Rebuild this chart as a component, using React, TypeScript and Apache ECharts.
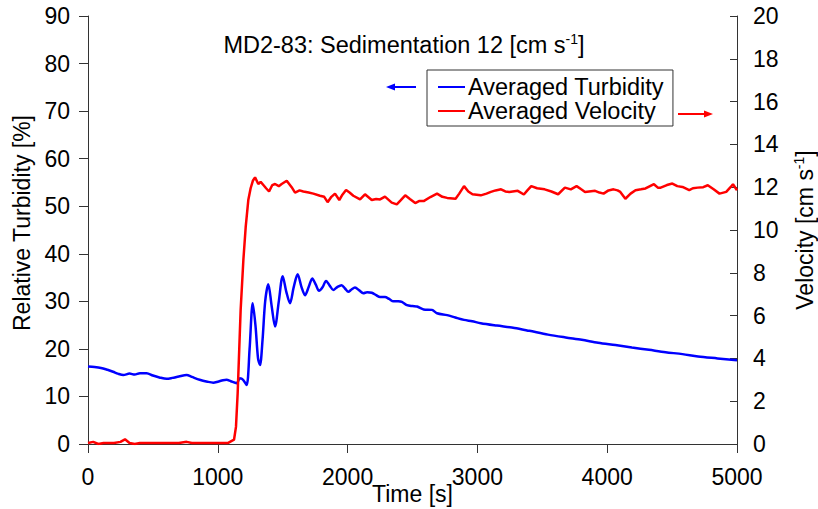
import React, { useEffect, useRef } from "react";
import * as echarts from "echarts";

const turbTime = [0,50,100,150,193,230,272,320,360,400,452,500,550,606,650,700,760,800,860,920,965,1000,1040,1068,1100,1145,1170,1195,1222,1245,1269,1290,1310,1325,1345,1365,1389,1415,1441,1470,1500,1528,1556,1585,1615,1645,1672,1700,1728,1755,1780,1808,1834,1862,1890,1920,1954,1980,2006,2030,2057,2090,2121,2150,2186,2220,2250,2288,2320,2353,2390,2418,2457,2500,2535,2586,2650,2689,2767,2830,2897,2960,3026,3150,3286,3400,3544,3680,3804,3930,4063,4190,4322,4450,4580,4700,4850,5000];
const turbValue = [16.3,16.2,16.0,15.6,15.2,14.8,14.5,14.8,14.6,14.9,14.9,14.4,14.0,13.7,13.9,14.2,14.5,14.1,13.5,13.1,12.9,13.1,13.4,13.5,13.2,12.8,13.8,13.5,12.4,20,29.6,25,18,16.6,22,30,33.6,29,24.7,30,35.3,32,29.6,33,35.7,33,31.3,33,34.8,33.5,32.2,33,34.3,33.3,32.4,33,33.4,32.7,32.0,32.5,32.9,32.3,31.7,31.9,31.8,31.3,30.9,30.9,30.5,30.0,30.0,29.9,29.2,29.0,28.9,28.3,28.2,27.5,27.1,26.6,26.1,25.8,25.4,24.9,24.4,23.8,23.0,22.4,21.9,21.3,20.8,20.3,19.8,19.3,18.9,18.4,18.0,17.6];

const velTime = [0,40,80,120,200,250,285,320,360,400,500,600,700,760,800,900,1000,1080,1125,1140,1153,1165,1176,1197,1215,1235,1253,1270,1287,1312,1330,1351,1372,1395,1420,1441,1470,1492,1531,1569,1595,1630,1659,1700,1736,1787,1820,1846,1875,1903,1936,1960,1988,2015,2044,2096,2134,2186,2220,2250,2288,2340,2379,2410,2444,2480,2521,2550,2586,2638,2689,2730,2767,2832,2860,2897,2930,2962,3026,3070,3104,3140,3182,3215,3246,3311,3358,3385,3415,3460,3518,3570,3622,3674,3720,3764,3800,3829,3907,3940,3972,4010,4049,4080,4101,4140,4180,4218,4260,4295,4330,4360,4390,4412,4460,4502,4540,4580,4632,4660,4697,4740,4775,4820,4865,4917,4950,4969,5000];
const velValue = [0.05,0.1,0.0,0.05,0.05,0.1,0.22,0.05,0.0,0.05,0.05,0.05,0.05,0.1,0.05,0.05,0.05,0.05,0.2,0.8,2.37,4.4,6.26,8.6,10.15,11.4,11.95,12.3,12.46,12.15,12.25,12.1,11.95,11.8,12.1,12.15,12.05,12.15,12.3,12.0,11.75,11.85,11.8,11.75,11.7,11.6,11.55,11.3,11.55,11.7,11.4,11.65,11.87,11.75,11.6,11.43,11.67,11.4,11.45,11.43,11.56,11.28,11.2,11.4,11.62,11.45,11.26,11.35,11.35,11.54,11.7,11.55,11.5,11.46,11.7,12.05,11.8,11.67,11.62,11.7,11.78,11.85,11.9,11.8,11.78,11.83,11.66,11.85,12.05,11.95,11.9,11.8,11.67,11.98,11.9,12.05,11.9,11.78,11.83,11.75,11.7,11.85,11.9,11.85,11.78,11.46,11.7,11.86,11.9,11.94,12.05,12.14,11.98,11.98,12.1,12.17,12.05,12.01,11.86,11.95,11.98,12.0,12.09,11.9,11.7,11.78,12.0,12.14,11.86];

const seriesNames = ["Averaged Turbidity", "Averaged Velocity"];
const titleText = "MD2-83: Sedimentation 12 [cm s";
const FONT = "Liberation Sans";

export default function App() {
  const ref = useRef<HTMLDivElement>(null);
  useEffect(() => {
    if (!ref.current) return;
    const chart = echarts.init(ref.current, undefined, { renderer: "svg" });
    const axisCol = "#333";
    const lbl = { color: "#000", fontFamily: FONT, fontSize: 23 };
    const plain = (v: number) => String(v);
    chart.setOption({
      animation: false,
      backgroundColor: "#fff",
      textStyle: { fontFamily: FONT },
      title: {
        text: "{a|" + titleText + "}{b|-1}{a|]}",
        left: 399,
        textAlign: "center",
        top: 27,
        textStyle: {
          fontWeight: "normal",
          rich: {
            a: { fontSize: 23.5, fontFamily: FONT, color: "#000", fontWeight: "normal" },
            b: { fontSize: 14, fontFamily: FONT, color: "#000", fontWeight: "normal", padding: [0, 0, 12, 0] },
          },
        },
      },
      legend: {
        orient: "vertical",
        left: 427,
        top: 70,
        itemWidth: 27,
        itemHeight: 14,
        itemGap: 0,
        borderColor: "#333",
        borderWidth: 1,
        borderRadius: 0,
        padding: [5, 9, 3, 11],
        icon: "path://M0,6 L27,6 L27,8 L0,8 Z",
        textStyle: { fontFamily: FONT, fontSize: 23.5, color: "#000", lineHeight: 20, padding: [0, 0, 0, -2] },
        data: seriesNames,
      },
      grid: { left: 88, right: 81, top: 16, bottom: 65, containLabel: false, outerBoundsMode: "none" },
      xAxis: {
        type: "value",
        min: 0,
        max: 5000,
        interval: 1000,
        name: "Time [s]",
        nameLocation: "middle",
        nameGap: 38,
        nameMoveOverlap: false,
        nameTextStyle: { ...lbl },
        axisLine: { lineStyle: { color: axisCol, width: 1 } },
        axisTick: { show: true, inside: false, length: 9, lineStyle: { color: axisCol } },
        axisLabel: { ...lbl, margin: 21, formatter: plain },
        splitLine: { show: false },
      },
      yAxis: [
        {
          type: "value",
          min: 0,
          max: 90,
          interval: 10,
          position: "left",
          name: "Relative Turbidity [%]",
          nameLocation: "middle",
          nameRotate: 90,
          nameGap: 55,
          nameMoveOverlap: false,
          nameTextStyle: { ...lbl, padding: [0, 0, 0, 14] },
          axisLine: { show: true, lineStyle: { color: axisCol, width: 1 } },
          axisTick: { show: true, inside: false, length: 9, lineStyle: { color: axisCol } },
          axisLabel: { ...lbl, margin: 18, formatter: plain },
          splitLine: { show: false },
        },
        {
          type: "value",
          min: 0,
          max: 20,
          interval: 2,
          position: "right",
          name: "{a|Velocity [cm s}{b|-1}{a|]}",
          nameLocation: "middle",
          nameRotate: 90,
          nameGap: 55,
          nameMoveOverlap: false,
          nameTextStyle: {
            rich: {
              a: { fontSize: 23, fontFamily: FONT, color: "#000" },
              b: { fontSize: 14, fontFamily: FONT, color: "#000", padding: [0, 0, 12, 0] },
            },
          },
          axisLine: { show: true, lineStyle: { color: axisCol, width: 1 } },
          axisTick: { show: true, inside: true, length: 7, lineStyle: { color: axisCol } },
          axisLabel: { ...lbl, margin: 16, formatter: plain },
          splitLine: { show: false },
        },
      ],
      series: [
        {
          name: seriesNames[0],
          type: "line",
          yAxisIndex: 0,
          symbol: "none",
          smooth: 0.3,
          lineStyle: { color: "#0000ff", width: 2.5 },
          itemStyle: { color: "#0000ff" },
          data: turbTime.map((t, i) => [t, turbValue[i]]),
        },
        {
          name: seriesNames[1],
          type: "line",
          yAxisIndex: 1,
          symbol: "none",
          lineStyle: { color: "#ff0000", width: 2.5 },
          itemStyle: { color: "#ff0000" },
          data: velTime.map((t, i) => [t, velValue[i]]),
        },
      ],
      graphic: [
        { type: "line", shape: { x1: 392, y1: 87, x2: 416, y2: 87 }, style: { stroke: "#0000ff", lineWidth: 2 } },
        { type: "polygon", shape: { points: [[386, 87], [395, 83.5], [395, 90.5]] }, style: { fill: "#0000ff" } },
        { type: "line", shape: { x1: 678, y1: 114, x2: 707, y2: 114 }, style: { stroke: "#ff0000", lineWidth: 2 } },
        { type: "polygon", shape: { points: [[713, 114], [704, 110.5], [704, 117.5]] }, style: { fill: "#ff0000" } },
      ],
    });
    return () => chart.dispose();
  }, []);
  return <div ref={ref} style={{ width: 818, height: 509, position: "absolute", left: 0, top: 0 }} />;
}
